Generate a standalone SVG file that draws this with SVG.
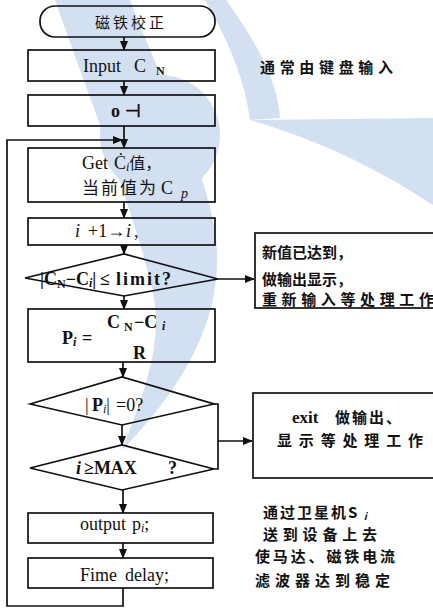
<svg xmlns="http://www.w3.org/2000/svg" width="433" height="611" viewBox="0 0 433 611">
<style>
.bg{fill:#ffffff}
.wm{fill:#d3e0f2;stroke:none}
.box{fill:none;stroke:#111;stroke-width:1.7}
.ln{fill:none;stroke:#111;stroke-width:1.7}
.t{font-family:"Liberation Serif","Noto Sans CJK SC",serif;fill:#111;font-size:18px}
.c{font-family:"Noto Sans CJK SC","Liberation Serif",sans-serif;fill:#111;font-size:15px}
.cb{font-family:"Noto Sans CJK SC","Liberation Serif",sans-serif;fill:#111;font-size:15px;font-weight:bold}
.b{font-weight:bold}
.i{font-style:italic}
.s{font-size:12px}
.m{text-anchor:middle}
</style>
<defs>
<marker id="ah" viewBox="0 0 10 10" refX="9" refY="5" markerWidth="6" markerHeight="6" orient="auto">
<path d="M0,1 L10,5 L0,9 Z" fill="#111"/>
</marker>
</defs>
<rect class="bg" x="0" y="0" width="433" height="611"/>
<g id="watermark">
<path class="wm" d="M55,0 L130,0 C160,80 200,150 215,230 C225,300 200,370 122,450 C150,380 165,330 150,280 C130,200 90,100 55,0 Z"/>
<circle class="wm" cx="160" cy="135" r="60"/>
<path class="wm" d="M205,0 L226,0 C255,40 278,80 280,118 L250,120 C245,80 228,40 205,0 Z"/>
<path class="wm" d="M250,120 L433,118 L433,205 C380,170 320,140 250,120 Z"/>
</g>
<g id="connectors">
<line class="ln" x1="124" y1="37" x2="124" y2="50" marker-end="url(#ah)"/>
<line class="ln" x1="124" y1="81" x2="124" y2="95" marker-end="url(#ah)"/>
<line class="ln" x1="124" y1="126" x2="124" y2="148" marker-end="url(#ah)"/>
<line class="ln" x1="124" y1="202" x2="124" y2="218" marker-end="url(#ah)"/>
<line class="ln" x1="124" y1="245" x2="124" y2="254" marker-end="url(#ah)"/>
<line class="ln" x1="124" y1="296" x2="124" y2="309" marker-end="url(#ah)"/>
<line class="ln" x1="123" y1="362" x2="123" y2="377" marker-end="url(#ah)"/>
<line class="ln" x1="122" y1="425" x2="122" y2="445" marker-end="url(#ah)"/>
<line class="ln" x1="123" y1="490" x2="123" y2="513" marker-end="url(#ah)"/>
<line class="ln" x1="123" y1="543" x2="123" y2="558" marker-end="url(#ah)"/>
<polyline class="ln" points="123,588 123,606 7,606 7,140 122,140" marker-end="url(#ah)"/>
<line class="ln" x1="218" y1="279" x2="254" y2="279" marker-end="url(#ah)"/>
<polyline class="ln" points="214,404 218,404 218,469 214,469"/>
<line class="ln" x1="218" y1="441" x2="252" y2="441" marker-end="url(#ah)"/>
</g>
<g id="start">
<rect class="box" x="40" y="6" width="175" height="31" rx="15" ry="15"/>
<text class="c m" x="131" y="28" font-size="16" letter-spacing="3">磁铁校正</text>
</g>
<g id="input">
<rect class="box" x="28" y="50" width="187" height="31"/>
<text class="t" y="72"><tspan x="83">Input</tspan><tspan x="134">C</tspan><tspan class="s b" x="156" dy="3">N</tspan></text>
</g>
<g id="init">
<rect class="box" x="28" y="95" width="187" height="31"/>
<text class="t b" y="117"><tspan x="111">o</tspan><tspan x="125">⊣</tspan></text>
</g>
<g id="get">
<rect class="box" x="28" y="148" width="187" height="54"/>
<text class="t" y="169"><tspan x="82">Get</tspan><tspan x="114">Ċ</tspan><tspan class="s i" dy="2">i</tspan><tspan dy="-2" font-size="16">值，</tspan></text>
<text class="t" y="194"><tspan x="82" font-size="17" letter-spacing="2">当前值为</tspan><tspan x="161">C</tspan><tspan class="i" font-size="14" x="181" dy="4">p</tspan></text>
</g>
<g id="inc">
<rect class="box" x="28" y="218" width="187" height="27"/>
<text class="t" y="237"><tspan class="i" x="75">i</tspan><tspan x="88">+1→</tspan><tspan class="i" x="126">i</tspan><tspan x="134">,</tspan></text>
</g>
<g id="dec1">
<polygon class="box" points="25,278 124,254 218,279 124,296"/>
<text class="t b" y="285"><tspan x="40">|C</tspan><tspan class="s" dy="3">N</tspan><tspan dy="-3">−C</tspan><tspan class="s i" dy="2">i</tspan><tspan dy="-2">|</tspan><tspan x="100">≤</tspan><tspan x="116" letter-spacing="2">limit?</tspan></text>
</g>
<g id="calc">
<rect class="box" x="28" y="309" width="187" height="53"/>
<text class="t b" y="344" font-size="19"><tspan x="62">P</tspan><tspan class="s i" dy="2">i</tspan><tspan x="82" dy="-2">=</tspan></text>
<text class="t b" y="328"><tspan x="107">C</tspan><tspan class="s" x="124" dy="3">N</tspan><tspan x="134" dy="-3">−C</tspan><tspan class="s i" x="162" dy="2">i</tspan></text>
<text class="t b" x="133" y="359">R</text>
</g>
<g id="dec2">
<polygon class="box" points="30,404 122,377 214,404 122,425"/>
<text class="t" y="411"><tspan x="85">|</tspan><tspan class="b" x="92">P</tspan><tspan class="s i" dy="2">i</tspan><tspan dy="-2">|</tspan><tspan x="116">=0?</tspan></text>
</g>
<g id="dec3">
<polygon class="box" points="30,468 122,445 214,469 122,490"/>
<text class="t b" y="474"><tspan class="i" x="76">i</tspan><tspan x="84">≥MAX</tspan><tspan x="168">?</tspan></text>
</g>
<g id="output">
<rect class="box" x="28" y="513" width="185" height="30"/>
<text class="t" y="530" font-size="17"><tspan x="80">output</tspan><tspan x="132">p</tspan><tspan class="s i" dy="2">i</tspan><tspan dy="-2">;</tspan></text>
</g>
<g id="delay">
<rect class="box" x="28" y="558" width="185" height="30"/>
<text class="t" y="581"><tspan x="80">Fime</tspan><tspan x="125">delay;</tspan></text>
</g>
<g id="done">
<rect class="box" x="255" y="233" width="190" height="75"/>
<text class="cb" x="262" y="258" font-size="16">新值已达到，</text>
<text class="cb" x="262" y="285" font-size="16">做输出显示，</text>
<text class="cb" x="262" y="305" font-size="16" textLength="172" lengthAdjust="spacing">重新输入等处理工作</text>
</g>
<g id="exit">
<rect class="box" x="253" y="393" width="190" height="85"/>
<text class="cb" y="423"><tspan x="292" font-family="Liberation Serif" font-size="17">exit</tspan><tspan x="335" letter-spacing="2">做输出、</tspan></text>
<text class="cb" x="277" y="446" textLength="146" lengthAdjust="spacing">显示等处理工作</text>
</g>
<g id="notes">
<text class="cb" x="260" y="73" textLength="133" lengthAdjust="spacing">通常由键盘输入</text>
<text class="cb" x="263" y="518" letter-spacing="2">通过卫星机S<tspan font-size="10" dy="2" font-style="italic"> i</tspan></text>
<text class="cb" x="263" y="540" textLength="114" lengthAdjust="spacing">送到设备上去</text>
<text class="cb" x="255" y="562" textLength="140" lengthAdjust="spacing">使马达、磁铁电流</text>
<text class="cb" x="255" y="586" textLength="135" lengthAdjust="spacing">滤波器达到稳定</text>
</g>
</svg>
